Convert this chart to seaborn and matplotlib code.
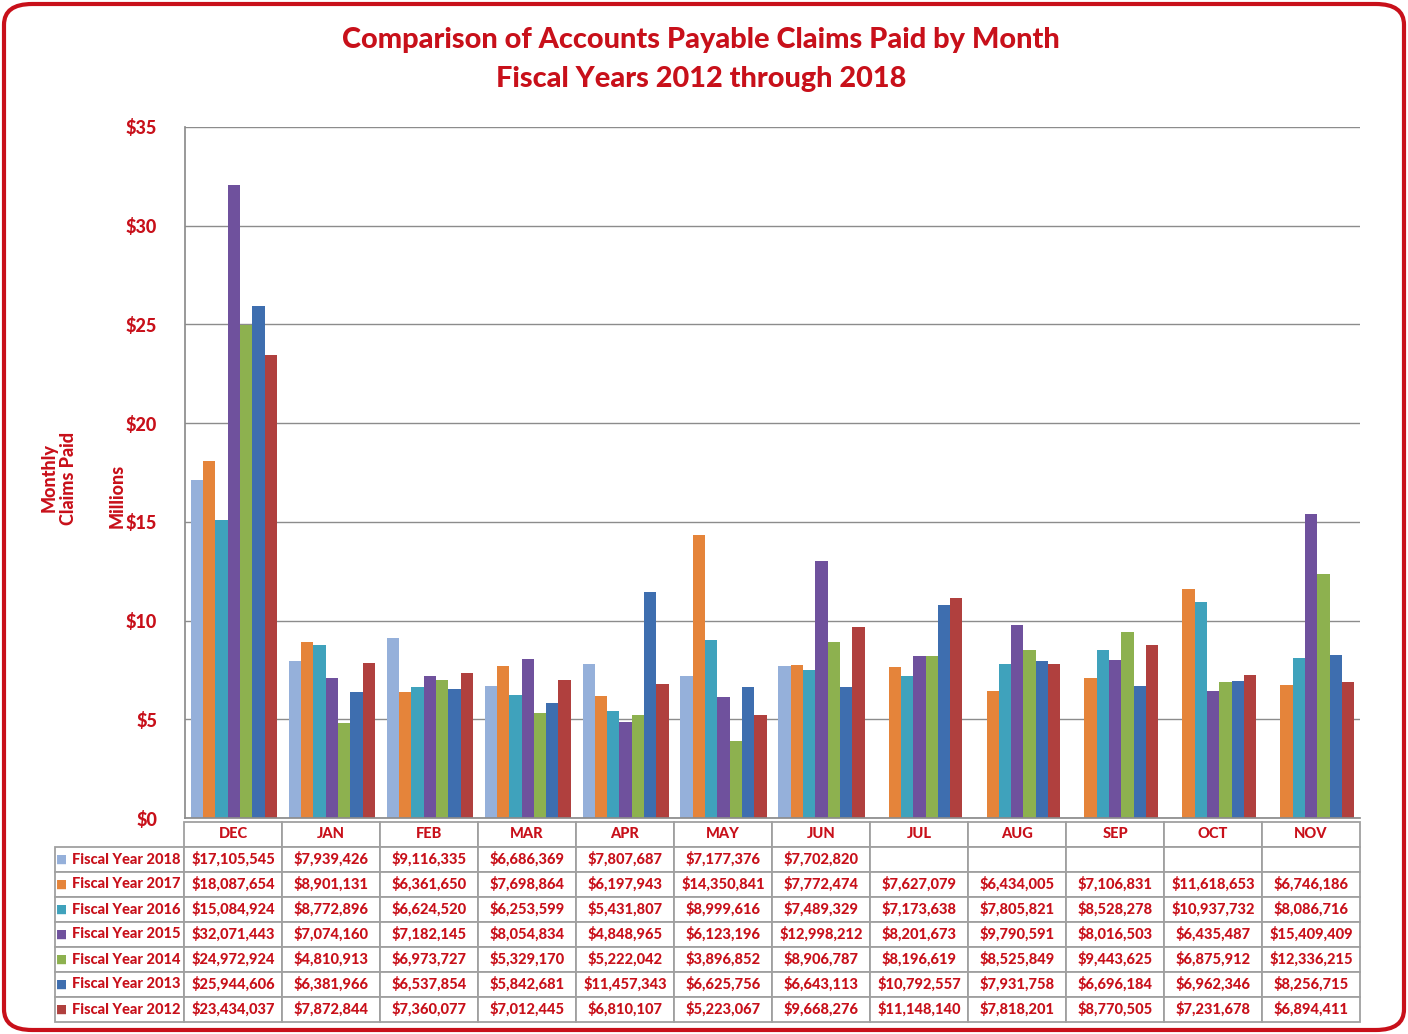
import numpy as np
import pandas as pd
import matplotlib
matplotlib.use("Agg")
import matplotlib.pyplot as plt
from matplotlib.patches import FancyBboxPatch
import seaborn as sns

months = ["DEC", "JAN", "FEB", "MAR", "APR", "MAY", "JUN", "JUL", "AUG", "SEP", "OCT", "NOV"]
years = ["Fiscal Year 2018", "Fiscal Year 2017", "Fiscal Year 2016", "Fiscal Year 2015",
         "Fiscal Year 2014", "Fiscal Year 2013", "Fiscal Year 2012"]
nan = np.nan
fy2018 = [17105545, 7939426, 9116335, 6686369, 7807687, 7177376, 7702820, nan, nan, nan, nan, nan]
fy2017 = [18087654, 8901131, 6361650, 7698864, 6197943, 14350841, 7772474, 7627079, 6434005, 7106831, 11618653, 6746186]
fy2016 = [15084924, 8772896, 6624520, 6253599, 5431807, 8999616, 7489329, 7173638, 7805821, 8528278, 10937732, 8086716]
fy2015 = [32071443, 7074160, 7182145, 8054834, 4848965, 6123196, 12998212, 8201673, 9790591, 8016503, 6435487, 15409409]
fy2014 = [24972924, 4810913, 6973727, 5329170, 5222042, 3896852, 8906787, 8196619, 8525849, 9443625, 6875912, 12336215]
fy2013 = [25944606, 6381966, 6537854, 5842681, 11457343, 6625756, 6643113, 10792557, 7931758, 6696184, 6962346, 8256715]
fy2012 = [23434037, 7872844, 7360077, 7012445, 6810107, 5223067, 9668276, 11148140, 7818201, 8770505, 7231678, 6894411]
series = [fy2018, fy2017, fy2016, fy2015, fy2014, fy2013, fy2012]
yticks = [0, 5, 10, 15, 20, 25, 30, 35]

colors = ["#95B0DA", "#E5843A", "#3FA2BC", "#6F519D", "#8DB14F", "#3E6EAF", "#B0403E"]
RED = "#C8101A"
WT = 900

rows = []
for y, vals in zip(years, series):
    for m, v in zip(months, vals):
        rows.append({"Month": m, "Year": y, "Value": v / 1e6})
df = pd.DataFrame(rows)

sns.set_theme(style="white")
plt.rcParams["font.family"] = ["Lato", "DejaVu Sans"]

W, H = 1408, 1034
fig = plt.figure(figsize=(W / 100, H / 100), dpi=100)
fig.patch.set_facecolor("white")

ax = fig.add_axes([185 / W, 1 - 818 / H, (1360 - 185) / W, (818 - 127) / H])
sns.barplot(data=df, x="Month", y="Value", hue="Year", order=months, hue_order=years,
            palette=colors, saturation=1, width=0.88, ax=ax, legend=False,
            edgecolor="none", errorbar=None)
ax.set_ylim(0, 35)
ax.set_xlim(-0.5, 11.5)
ax.set_yticks(yticks)
ax.set_yticklabels([f"${t}" for t in yticks], color=RED, fontsize=13, fontweight=WT)
ax.tick_params(axis="y", length=0, pad=20)
ax.set_xticks([])
ax.set_xlabel("")
ax.set_ylabel("")
ax.grid(axis="y", color="#8C8C8C", linewidth=1.0)
ax.set_axisbelow(True)
for s in ["top", "right"]:
    ax.spines[s].set_visible(False)
ax.spines["left"].set_color("#8C8C8C")
ax.spines["bottom"].set_color("#8C8C8C")

# table
cell_text = [[""] + months]
for y, vals in zip(years, series):
    cell_text.append([y] + ["" if np.isnan(v) else f"${v:,.0f}" for v in vals])
x0 = (55 - 185) / (1360 - 185)
tw = (1360 - 55) / (1360 - 185)
ty0 = (818 - 1022) / (818 - 127)
th = (1022 - 822) / (818 - 127)
colw = [129] + [98] * 12
tbl = ax.table(cellText=cell_text, colWidths=[c / sum(colw) for c in colw],
               bbox=[x0, ty0, tw, th], cellLoc="center")
tbl.auto_set_font_size(False)
for (r, c), cell in tbl.get_celld().items():
    cell.set_edgecolor("#A0A0A0")
    cell.set_linewidth(1.3)
    t = cell.get_text()
    t.set_color(RED)
    t.set_fontweight(WT)
    t.set_fontsize(10.5)
    if r == 0 and c == 0:
        cell.visible_edges = ""
    if c == 0 and r > 0:
        t.set_ha("right")
        cell._loc = "right"
        cell.PAD = 0.025

# legend squares in row label cells
row_top = 847
row_h = (1022 - 847) / 7
for i, col in enumerate(colors):
    yc = row_top + row_h * (i + 0.5)
    fig.text(62 / W, 1 - yc / H, "■", color=col, fontsize=8.5, ha="center", va="center",
             family="DejaVu Sans")

# titles and axis labels
fig.text(701 / W, 1 - 40 / H, "Comparison of Accounts Payable Claims Paid by Month",
         color=RED, fontsize=20.8, fontweight=WT, ha="center", va="center")
fig.text(701 / W, 1 - 79 / H, "Fiscal Years 2012 through 2018",
         color=RED, fontsize=20.8, fontweight=WT, ha="center", va="center")
fig.text(59 / W, 1 - 478 / H, "Monthly\nClaims Paid", color=RED, fontsize=13,
         fontweight=WT, rotation=90, ha="center", va="center", linespacing=1.2)
fig.text(117 / W, 1 - 496 / H, "Millions", color=RED, fontsize=13,
         fontweight=WT, rotation=90, ha="center", va="center")

# rounded outer border
border = FancyBboxPatch((4 / W, 4 / H), (W - 8) / W, (H - 8) / H,
                        boxstyle="round,pad=0,rounding_size=0.02",
                        transform=fig.transFigure, facecolor="none",
                        edgecolor=RED, linewidth=3)
fig.patches.append(border)

fig.savefig("out.png", dpi=100)
